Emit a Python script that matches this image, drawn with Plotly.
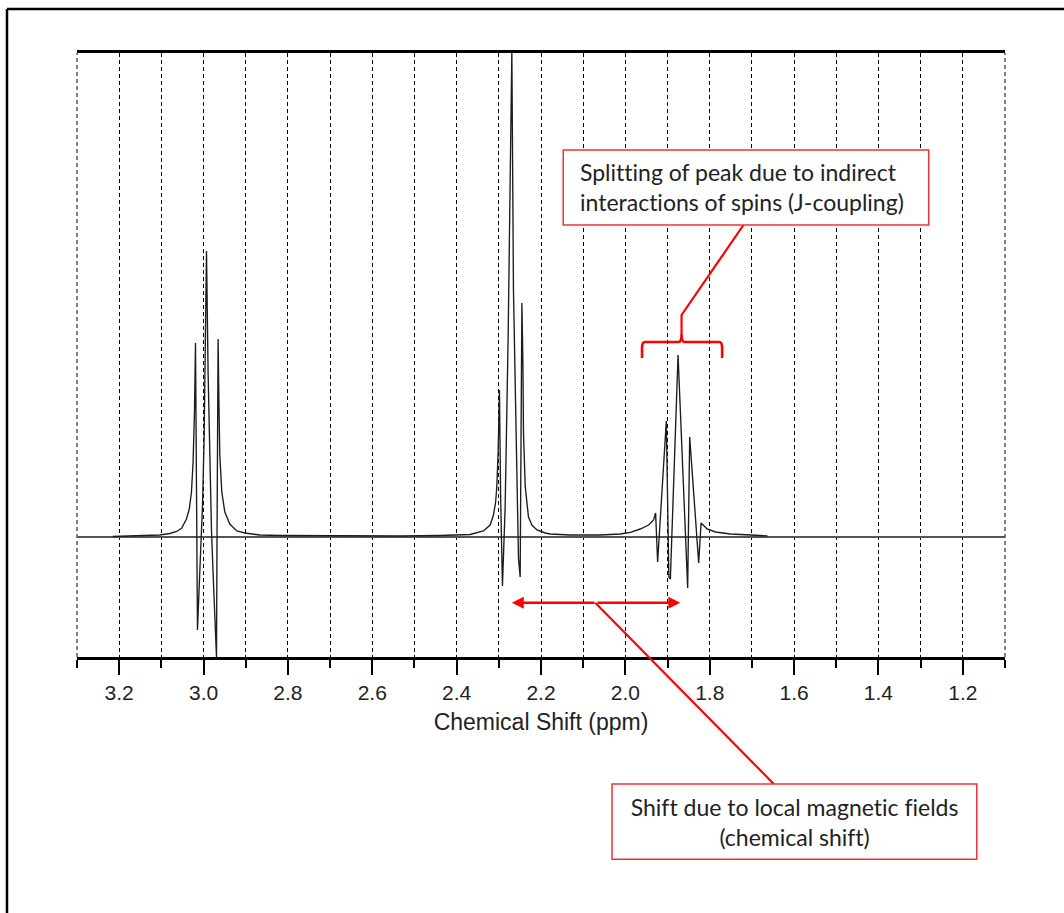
import plotly.graph_objects as go

# ---------------- data ----------------
shift_ppm = [
    3.2154, 3.1513, 3.1039, 3.0801, 3.0635, 3.0517, 3.0405, 3.0338, 3.0286, 3.0248,
    3.0215, 3.0191, 3.0167, 3.0144, 3.0090, 3.0026, 2.9987, 2.9954, 2.9930, 2.9892,
    2.9852, 2.9812, 2.9774, 2.9717, 2.9693, 2.9681, 2.9669, 2.9655, 2.9634, 2.9615,
    2.9567, 2.9496, 2.9377, 2.9211, 2.9021, 2.8665, 2.8190, 2.7003, 2.5342, 2.4392,
    2.3917,
    2.3680, 2.3365, 2.3206, 2.3127, 2.3075, 2.3047, 2.3016, 2.2985, 2.2957, 2.2914,
    2.2850, 2.2779, 2.2719, 2.2691, 2.2653, 2.2612, 2.2572, 2.2534, 2.2494, 2.2470,
    2.2453, 2.2430, 2.2415, 2.2375, 2.2297, 2.2216, 2.2097, 2.1900, 2.1782, 2.1307,
    2.0595, 2.0120,
    1.9883, 1.9646, 1.9449, 1.9330, 1.9283, 1.9235, 1.9029, 1.8969, 1.8933, 1.8751,
    1.8523, 1.8475, 1.8262, 1.8205, 1.8063, 1.7865, 1.7509, 1.7034, 1.6631,
]
intensity = [
    0.5, 1, 2, 3.5, 5.5, 9, 18, 28, 45, 75,
    125, 194, 40, -93, -36, 30, 97, 197, 286, 164,
    64, 7, -36, -103, -120, -3, 97, 198, 130, 82,
    45, 25, 13, 6, 4, 2, 1.5, 1, 1, 1.5,
    2,
    2.5, 6, 12, 22, 35, 51, 85, 147, 40, -49,
    30, 200, 380, 486, 247, 140, 33, -21, -40, 100,
    234, 176, 104, 51, 20, 12, 7, 4, 3, 2,
    2, 3,
    4.6, 8, 12, 17, 24, -25, 116, -40, -42, 182,
    -51, 100, -26, 14, 8, 5, 3, 2, 1,
]

tick_values = [3.2, 3.0, 2.8, 2.6, 2.4, 2.2, 2.0, 1.8, 1.6, 1.4, 1.2]
tick_labels = ["3.2", "3.0", "2.8", "2.6", "2.4", "2.2", "2.0", "1.8", "1.6", "1.4", "1.2"]

x_title = "Chemical Shift (ppm)"
note_coupling = "Splitting of peak due to indirect<br>interactions of spins (J-coupling)"
note_shift = "Shift due to local magnetic fields<br>(chemical shift)"

# annotation geometry (data units: ppm, intensity a.u.)
shift_arrow_from = 2.269
shift_arrow_to = 1.870
shift_arrow_level = -65.7
coupling_box = dict(x0=2.1473, x1=1.2809, y0=312, y1=387)
coupling_text_pos = (2.1117, 350.0)
shift_box = dict(x0=2.0317, x1=1.1669, y0=-322.3, y1=-247)
shift_text_pos = (1.5992, -284.7)

X_RANGE = [3.3, 1.1]
Y_RANGE = [-120, 484]

# ---------------- layout geometry ----------------
W, H = 1064, 913
ML, MR, MT, MB = 77, 59, 53, 256
PW, PH = W - ML - MR, H - MT - MB


def px_x(ppm):
    return (X_RANGE[0] - ppm) / (X_RANGE[0] - X_RANGE[1])


def px_y(v):
    return (v - Y_RANGE[0]) / (Y_RANGE[1] - Y_RANGE[0])


def pix_to_paper_x(p):
    return (p - ML) / PW


def pix_to_paper_y(p):
    return (H - MB - p) / PH


fig = go.Figure()
fig.add_trace(go.Scatter(
    x=shift_ppm, y=intensity, mode="lines",
    line=dict(color="#1c1c1c", width=1.35),
    showlegend=False, hoverinfo="skip",
))

RED = "#ff0000"
BOX_RED = "#f03232"
DASH = "4px,3px"
shapes = []

# dashed grid lines at the two range edges
for xe in (0, 1):
    shapes.append(dict(type="line", xref="paper", yref="paper", layer="below",
                       x0=xe, x1=xe, y0=0, y1=1,
                       line=dict(color="black", width=1, dash=DASH)))

# bracket + leader to the J-coupling note (data coordinates)
bx_l, bx_r, bx_c = 1.9605, 1.7706, 1.8668
by_end, by_bar, by_cusp = 179, 195, 203
bracket_path = (
    f"M{bx_l},{by_end} L{bx_l},{by_bar - 6} Q{bx_l},{by_bar} {bx_l - 0.007},{by_bar} "
    f"L{bx_c + 0.007},{by_bar} Q{bx_c},{by_bar} {bx_c},{by_cusp} "
    f"Q{bx_c},{by_bar} {bx_c - 0.007},{by_bar} L{bx_r + 0.007},{by_bar} "
    f"Q{bx_r},{by_bar} {bx_r},{by_bar - 6} L{bx_r},{by_end}"
)
shapes.append(dict(type="path", xref="x", yref="y", path=bracket_path,
                   line=dict(color=RED, width=2.6)))
leader1 = f"M1.7200,312 L{bx_c},222 L{bx_c},{by_cusp}"
shapes.append(dict(type="path", xref="x", yref="y", path=leader1,
                   line=dict(color=RED, width=2.2)))

# leader from the shift arrow to the lower note (paper coords, extends below plot)
shapes.append(dict(type="line", xref="paper", yref="paper",
                   x0=px_x(2.0714), y0=px_y(shift_arrow_level),
                   x1=px_x(1.6481), y1=px_y(-247),
                   line=dict(color=RED, width=2.2)))

# note boxes
shapes.append(dict(type="rect", xref="x", yref="y", layer="above",
                   fillcolor="white", line=dict(color=BOX_RED, width=1.5),
                   **coupling_box))
shapes.append(dict(type="rect", xref="paper", yref="paper", layer="above",
                   fillcolor="white", line=dict(color=BOX_RED, width=1.5),
                   x0=px_x(shift_box["x0"]), x1=px_x(shift_box["x1"]),
                   y0=px_y(shift_box["y0"]), y1=px_y(shift_box["y1"])))

# picture frame (top and left edges)
shapes.append(dict(type="line", xref="paper", yref="paper",
                   x0=pix_to_paper_x(7), y0=pix_to_paper_y(9),
                   x1=pix_to_paper_x(W + 5), y1=pix_to_paper_y(9),
                   line=dict(color="black", width=2.5)))
shapes.append(dict(type="line", xref="paper", yref="paper",
                   x0=pix_to_paper_x(7), y0=pix_to_paper_y(9),
                   x1=pix_to_paper_x(7), y1=pix_to_paper_y(H + 5),
                   line=dict(color="black", width=2.5)))

annotations = []
note_font = dict(family="Lato, Carlito, 'Open Sans', sans-serif", size=23, color="#222222")
annotations.append(dict(
    x=coupling_text_pos[0], y=coupling_text_pos[1], xref="x", yref="y",
    xanchor="left", yanchor="middle",
    text=note_coupling, showarrow=False, align="left", font=note_font,
))
annotations.append(dict(
    x=px_x(shift_text_pos[0]), y=px_y(shift_text_pos[1]), xref="paper", yref="paper",
    xanchor="center", yanchor="middle",
    text=note_shift, showarrow=False, align="center", font=note_font,
))
mid = (shift_arrow_from + shift_arrow_to) / 2
for tip in (shift_arrow_from, shift_arrow_to):
    annotations.append(dict(
        x=tip, y=shift_arrow_level, ax=mid, ay=shift_arrow_level,
        xref="x", yref="y", axref="x", ayref="y", text="",
        showarrow=True, arrowhead=2, arrowsize=0.95, arrowwidth=2.5, arrowcolor=RED,
    ))

axis_font = "Liberation Sans, Arial, sans-serif"
fig.update_layout(
    width=W, height=H,
    margin=dict(l=ML, r=MR, t=MT, b=MB, pad=0),
    paper_bgcolor="white", plot_bgcolor="white",
    shapes=shapes, annotations=annotations,
    xaxis=dict(
        range=X_RANGE, tickmode="array", tickvals=tick_values, ticktext=tick_labels,
        ticks="outside", ticklen=15, tickwidth=2, tickcolor="black",
        showline=True, linecolor="black", linewidth=2.5, mirror=True,
        showgrid=True, gridcolor="black", gridwidth=1, griddash=DASH,
        minor=dict(dtick=0.1, tick0=0, ticks="outside", ticklen=8, tickwidth=2,
                   tickcolor="black", showgrid=True, gridcolor="black",
                   gridwidth=1, griddash=DASH),
        tickfont=dict(family=axis_font, size=21, color="#222222"),
        title=dict(text=x_title, standoff=11,
                   font=dict(family=axis_font, size=23, color="#222222")),
        zeroline=False,
    ),
    yaxis=dict(
        range=Y_RANGE, showgrid=False, showticklabels=False, ticks="",
        zeroline=True, zerolinecolor="#555555", zerolinewidth=1.6, showline=False,
    ),
)

post = (
    "document.body.style.margin='0px';"
    "var st=document.createElement('style');"
    "st.textContent='text{font-variant-ligatures:none;font-feature-settings:\"liga\" 0;}';"
    "document.head.appendChild(st);"
)
fig.write_html("out.html", post_script=post, config={"displayModeBar": False})
